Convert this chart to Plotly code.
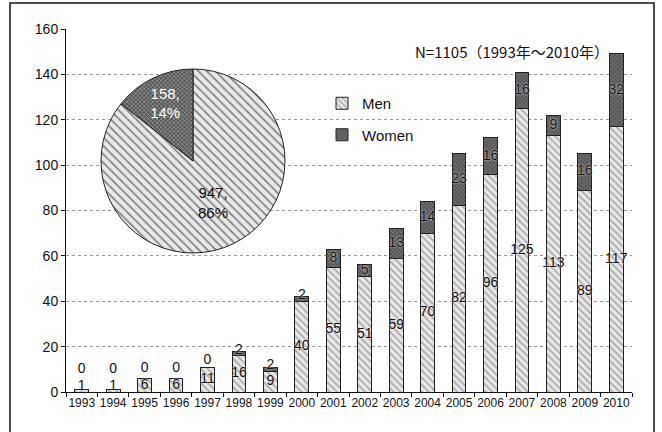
import plotly.graph_objects as go

years = [str(y) for y in range(1993, 2011)]
men = [1, 1, 6, 6, 11, 16, 9, 40, 55, 51, 59, 70, 82, 96, 125, 113, 89, 117]
women = [0, 0, 0, 0, 0, 2, 2, 2, 8, 5, 13, 14, 23, 16, 16, 9, 16, 32]
pie_labels = ["Men", "Women"]
pie_values = [sum(men), sum(women)]
note = "N=1105（1993年～2010年）"

SANS = "Liberation Sans, Arial, Helvetica, sans-serif"

# label positions derived from the data
men_y = [max(m / 2, 2.6) for m in men]
women_y = []
for m, w, my in zip(men, women, men_y):
    if w == 0:
        women_y.append(max(m + 3, my + 7.2))
    elif w < 4:
        women_y.append(m + w + 0.5)
    else:
        women_y.append(m + w / 2)

men_pat = dict(shape="\\", fgcolor="#666666", bgcolor="#e6e6e6", size=5, solidity=0.3)
women_pat = dict(shape="x", fgcolor="#b0b0b0", bgcolor="#555555", size=3, solidity=0.35)

fig = go.Figure()
fig.add_trace(go.Bar(
    x=years, y=men, name="Men", width=0.44,
    marker=dict(color="#e6e6e6", pattern=men_pat, line=dict(color="#222", width=1)),
    legendgroup="m", hoverinfo="skip",
))
fig.add_trace(go.Bar(
    x=years, y=women, name="Women", width=0.44,
    marker=dict(color="#555555", pattern=women_pat, line=dict(color="#222", width=1)),
    legendgroup="w", hoverinfo="skip",
))
lab_font = dict(family=SANS, size=14, color="#111", shadow="0px 0px 2px white")
fig.add_trace(go.Scatter(
    x=years, y=men_y, mode="text", text=[str(v) for v in men],
    textposition="middle center", textfont=lab_font, showlegend=False, hoverinfo="skip",
))
fig.add_trace(go.Scatter(
    x=years, y=women_y, mode="text", text=[str(v) for v in women],
    textposition="middle center", textfont=lab_font, showlegend=False, hoverinfo="skip",
))

# pie inset
L, R, T, B = 66, 30, 29, 40
W, H = 662, 432
pw, ph = W - L - R, H - T - B
cx, cy, r = 193, 161, 92
fig.add_trace(go.Pie(
    labels=pie_labels, values=pie_values, sort=False, direction="counterclockwise",
    rotation=0, showlegend=False, hoverinfo="skip",
    texttemplate="%{value},<br>%{percent:.0%}", textposition="inside",
    insidetextorientation="horizontal",
    textfont=dict(family=SANS, size=15, color=["#111", "white"]),
    marker=dict(colors=["#e6e6e6", "#555555"],
                pattern=dict(shape=["\\", "x"], fgcolor=["#777777", "#b0b0b0"],
                             bgcolor=["#e8e8e8", "#555555"], size=[6, 3], solidity=[0.25, 0.35]),
                line=dict(color="#222", width=1)),
    domain=dict(x=[(cx - r - L) / pw, (cx + r - L) / pw],
                y=[(H - B - cy - r) / ph, (H - B - cy + r) / ph]),
))

fig.update_layout(
    width=W, height=H, margin=dict(l=L, r=R, t=T, b=B),
    barmode="stack", paper_bgcolor="white", plot_bgcolor="white",
    font=dict(family=SANS, size=13, color="#111"),
    showlegend=True,
    legend=dict(x=(322 - L) / pw, y=(H - B - 87) / ph, xanchor="left", yanchor="top",
                traceorder="grouped", tracegroupgap=9, bgcolor="rgba(0,0,0,0)",
                font=dict(family=SANS, size=15, color="#111")),
    xaxis=dict(type="category", range=[-0.5, 17.5], showline=True, linecolor="#111",
               ticks="outside", tickson="boundaries", ticklen=4, tickcolor="#111",
               tickangle=0, tickfont=dict(family=SANS, size=12), showgrid=False),
    yaxis=dict(range=[0, 160], dtick=20, showline=True, linecolor="#111",
               ticks="outside", ticklen=4, tickcolor="#111", tickfont=dict(family=SANS, size=14),
               showgrid=True, gridcolor="#999", griddash="dot", gridwidth=1, zeroline=False),
    annotations=[dict(text=note, x=(512 - L) / pw, y=(H - B - 52) / ph, xref="paper", yref="paper",
                      xanchor="center", yanchor="middle",
                      showarrow=False, font=dict(family="Noto Sans CJK JP", size=15, color="#111"))],
    shapes=[dict(type="rect", xref="paper", yref="paper",
                 x0=(10 - L) / pw, x1=(654 - L) / pw, y0=(H - B - 445) / ph, y1=(H - B - 3) / ph,
                 line=dict(color="#111", width=1.5), fillcolor="rgba(0,0,0,0)", layer="below")],
)

fig.write_html("out.html", config={"displayModeBar": False},
               post_script="document.body.style.margin='0';document.body.style.overflow='hidden';")
